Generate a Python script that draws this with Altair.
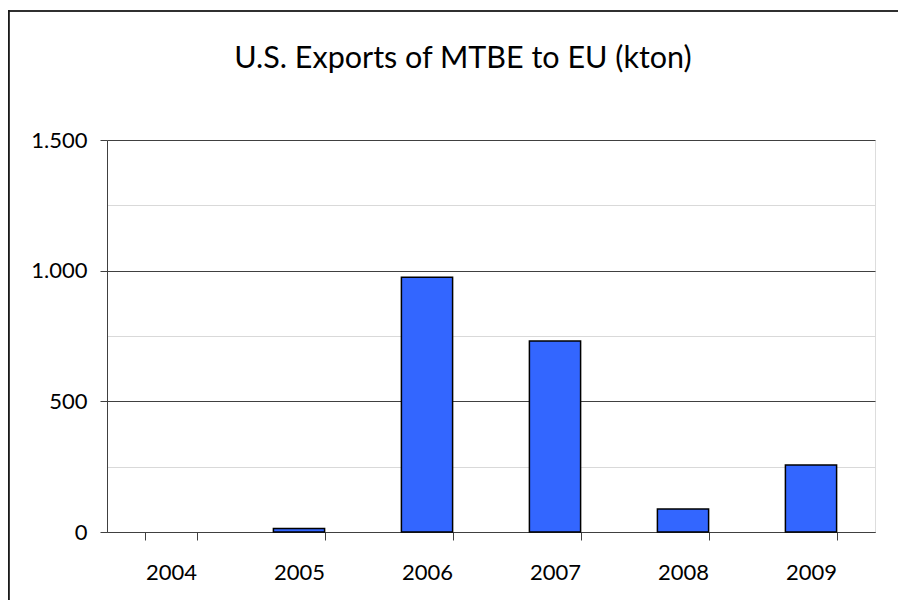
import altair as alt
import pandas as pd

years = ["2004", "2005", "2006", "2007", "2008", "2009"]
exports = [0, 13, 975, 731, 88, 256]
y_ticks = [0, 250, 500, 750, 1000, 1250, 1500]

df = pd.DataFrame({"year": years, "kton": exports})

FONT = "Lato"

bars = alt.Chart(df).transform_filter("datum.kton > 0").mark_bar(
    color="#3366FF", stroke="#000000", strokeWidth=1.5
).encode(
    x=alt.X("year:N", sort=years, title=None,
            scale=alt.Scale(domain=years, paddingInner=0.6, paddingOuter=0.3),
            axis=alt.Axis(labelAngle=0, tickBand="extent", tickSize=8,
                          tickColor="#404040", domainColor="#404040",
                          labelFontSize=22, labelFont=FONT, labelColor="#000000",
                          labelPadding=22, grid=False)),
    y=alt.Y("kton:Q", title=None,
            scale=alt.Scale(domain=[0, 1500], nice=False),
            axis=alt.Axis(values=y_ticks, tickSize=7,
                          labelExpr="datum.value % 500 === 0 ? replace(format(datum.value, ','), ',', '.') : ''",
                          labelFontSize=22, labelFont=FONT, labelColor="#000000",
                          labelPadding=13, domainColor="#404040",
                          tickColor={"condition": {"test": "datum.value % 500 === 0", "value": "#404040"},
                                     "value": "transparent"},
                          gridColor={"condition": {"test": "datum.value % 500 === 0", "value": "#404040"},
                                     "value": "#d9d9d9"},
                          grid=True))
)

# chart-area border (top and left edges are visible in the reference)
top_border = alt.Chart(df).mark_rule(
    color="#303030", strokeWidth=2, clip=False
).encode(x=alt.value(-99), x2=alt.value(820), y=alt.value(-129))

left_border = alt.Chart(df).mark_rule(
    color="#1a1a1a", strokeWidth=1.5, clip=False
).encode(x=alt.value(-98.5), y=alt.value(-130), y2=alt.value(520))

chart = alt.layer(bars, top_border, left_border).properties(
    width=768, height=392,
    autosize=alt.AutoSizeParams(type="none"),
    padding={"left": 99, "top": 132, "right": 23, "bottom": 68},
    title=alt.TitleParams("U.S. Exports of MTBE to EU (kton)", font=FONT, fontSize=30.5,
                          fontWeight="normal", color="#000000", frame="group",
                          anchor="middle", baseline="alphabetic", offset=-89, dx=-28),
).configure_view(stroke="#8c8c8c", strokeWidth=1).configure(background="white")

chart.save("out.html", embed_options={"renderer": "svg", "actions": False})
